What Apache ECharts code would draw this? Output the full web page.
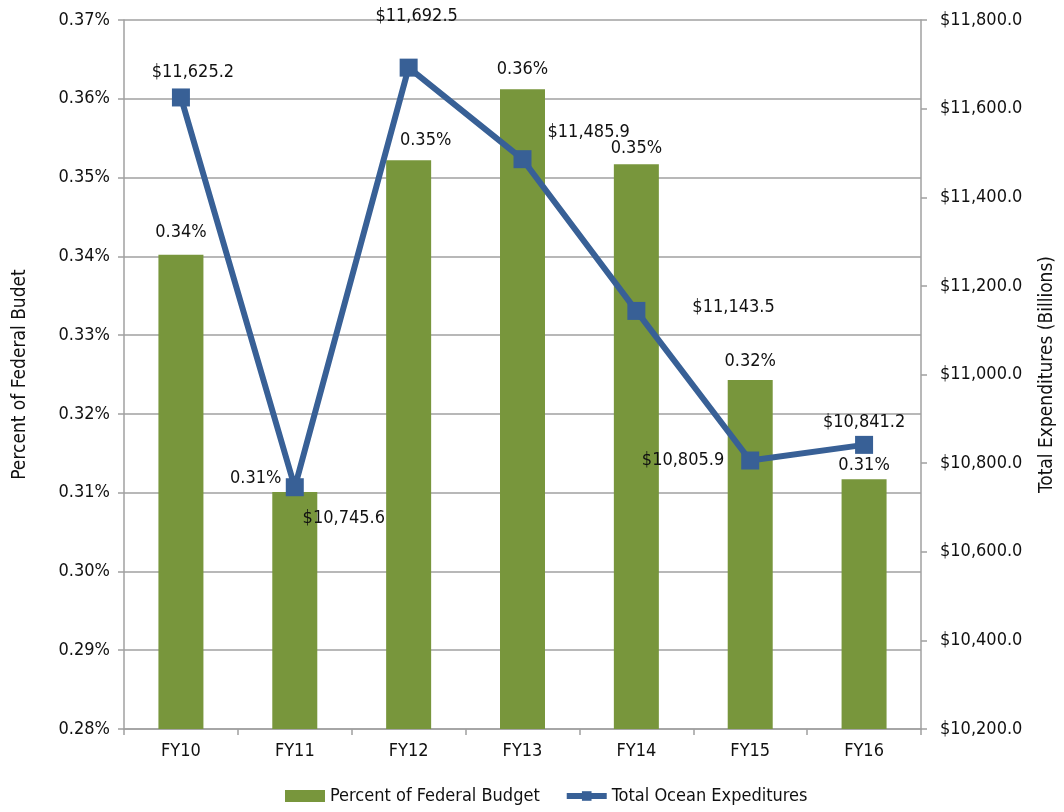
<!DOCTYPE html>
<html>
<head>
<meta charset="utf-8">
<script src="https://cdn.jsdelivr.net/npm/echarts@6/dist/echarts.min.js"></script>
<style>
  html, body { margin: 0; padding: 0; background: #fff; }
  #chart { width: 1064px; height: 812px; }
</style>
</head>
<body>
<div id="chart"></div>
<script>
const categories = ['FY10', 'FY11', 'FY12', 'FY13', 'FY14', 'FY15', 'FY16']
const percentBudget = [0.3402, 0.3101, 0.3522, 0.3612, 0.3517, 0.3243, 0.3117]
const oceanSpend = [11625.2, 10745.6, 11692.5, 11485.9, 11143.5, 10805.9, 10841.2]
const leftTicks = { min: 0.28, max: 0.37, step: 0.01 }
const rightTicks = { min: 10200, max: 11800, step: 200 }

const FONT = '"DejaVu Sans Condensed", "Liberation Sans Narrow", sans-serif'
const TXT = '#111'
const FS = 18

// label tweaks so they sit like the original
const barLabelOff = [[0, -8], [-39, 0], [17, -6], [0, -6], [0, -2], [0, -5], [0, 0]]
const lineLabel = [
  {position: 'top', offset: [12, -2]},
  {position: 'bottom', offset: [49, 8]},
  {position: 'top', offset: [8, -28]},
  {position: 'right', offset: [11, -27]},
  {position: 'right', offset: [42, -4]},
  {position: 'left', offset: [-12, 0]},
  {position: 'top', offset: [0, 0]}
]

const money = v => '$' + v.toLocaleString('en-US', {minimumFractionDigits: 1, maximumFractionDigits: 1})

const chart = echarts.init(document.getElementById('chart'))
const option = {
  animation: false,
  textStyle: {fontFamily: FONT},
  grid: {left: 124, right: 143, top: 20, bottom: 83, containLabel: false, outerBoundsMode: 'none'},
  legend: {
    left: 280,
    top: 782,
    itemGap: 24,
    itemWidth: 40,
    itemHeight: 12,
    textStyle: {fontFamily: FONT, fontSize: FS, color: TXT},
    data: [
      {name: 'Percent of Federal Budget', icon: 'rect'},
      {name: 'Total Ocean Expeditures', lineStyle: {width: 6}}
    ]
  },
  xAxis: {
    type: 'category',
    data: categories,
    axisLine: {lineStyle: {color: '#a0a0a0', width: 1.5}},
    axisTick: {show: true, length: 6, lineStyle: {color: '#a0a0a0', width: 1.5}},
    axisLabel: {color: TXT, fontSize: FS, fontFamily: FONT, margin: 13}
  },
  yAxis: [
    {
      type: 'value',
      min: leftTicks.min,
      max: leftTicks.max,
      interval: leftTicks.step,
      name: 'Percent of Federal Budet',
      nameLocation: 'middle',
      nameRotate: 90,
      nameGap: 94,
      nameTextStyle: {color: TXT, fontSize: 19, fontFamily: FONT},
      axisLine: {show: true, lineStyle: {color: '#a0a0a0', width: 1.5}},
      axisTick: {show: true, length: 6, lineStyle: {color: '#a0a0a0', width: 1.5}},
      axisLabel: {color: TXT, fontSize: FS, fontFamily: FONT, margin: 14,
        formatter: v => v.toFixed(2) + '%'},
      splitLine: {show: true, lineStyle: {color: '#a0a0a0', width: 1.5}}
    },
    {
      type: 'value',
      min: rightTicks.min,
      max: rightTicks.max,
      interval: rightTicks.step,
      position: 'right',
      name: 'Total Expenditures (Billions)',
      nameLocation: 'middle',
      nameRotate: 90,
      nameGap: 117,
      nameTextStyle: {color: TXT, fontSize: 19, fontFamily: FONT},
      axisLine: {show: true, lineStyle: {color: '#a0a0a0', width: 1.5}},
      axisTick: {show: true, length: 6, lineStyle: {color: '#a0a0a0', width: 1.5}},
      axisLabel: {color: TXT, fontSize: FS, fontFamily: FONT, margin: 19,
        formatter: v => money(v)},
      splitLine: {show: false}
    }
  ],
  series: [
    {
      name: 'Percent of Federal Budget',
      type: 'bar',
      yAxisIndex: 0,
      barWidth: 45,
      itemStyle: {color: '#78963c'},
      data: percentBudget.map((v, i) => ({
        value: v,
        label: {offset: barLabelOff[i]}
      })),
      label: {
        show: true,
        position: 'top',
        color: TXT,
        fontSize: FS,
        fontFamily: FONT,
        formatter: p => p.value.toFixed(2) + '%'
      },
      z: 1
    },
    {
      name: 'Total Ocean Expeditures',
      type: 'line',
      yAxisIndex: 1,
      symbol: 'rect',
      symbolSize: 18,
      lineStyle: {color: '#386096', width: 6},
      itemStyle: {color: '#386096'},
      data: oceanSpend.map((v, i) => ({
        value: v,
        label: lineLabel[i]
      })),
      label: {
        show: true,
        color: TXT,
        fontSize: FS,
        fontFamily: FONT,
        formatter: p => money(p.value)
      },
      z: 3
    }
  ]
}
chart.setOption(option)
</script>
</body>
</html>
